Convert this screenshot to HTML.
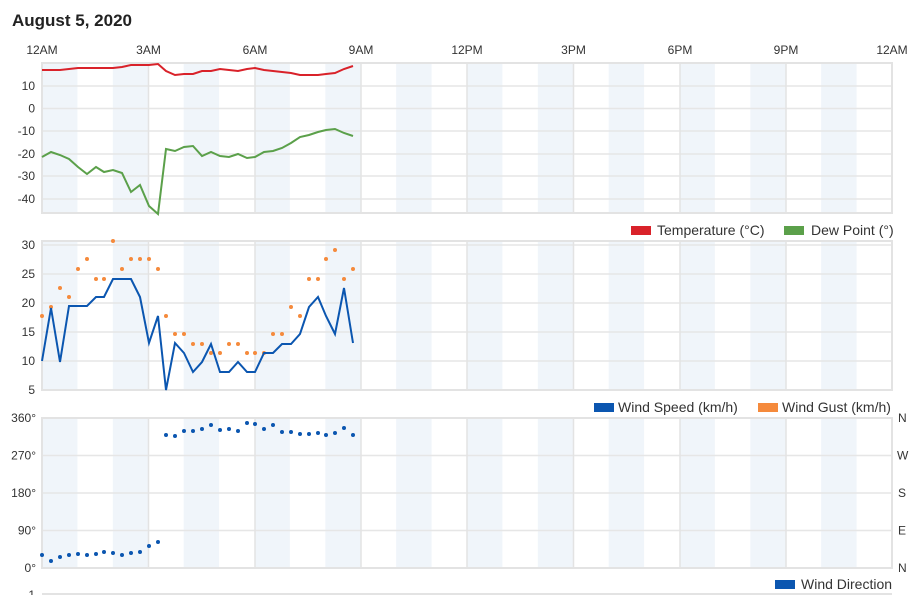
<!DOCTYPE html>
<html><head><meta charset="utf-8"><style>
body{margin:0;background:#fff;width:915px;height:595px;overflow:hidden;font-family:"Liberation Sans",Arial,sans-serif}
svg text{font-family:"Liberation Sans",Arial,sans-serif;fill:#333}
</style></head><body>
<svg width="915" height="595" viewBox="0 0 915 595" xmlns="http://www.w3.org/2000/svg">
<defs>
<pattern id="bd" patternUnits="userSpaceOnUse" x="42" y="0" width="70.833" height="600">
<rect x="0" y="0" width="35.42" height="600" fill="#f0f5fa"/>
</pattern>
</defs>
<text x="12" y="26" font-size="17" font-weight="bold" style="fill:#222">August 5, 2020</text>
<g font-size="12" text-anchor="middle">
<text x="42" y="54">12AM</text><text x="148.5" y="54">3AM</text><text x="255" y="54">6AM</text><text x="361" y="54">9AM</text>
<text x="467" y="54">12PM</text><text x="573.5" y="54">3PM</text><text x="680" y="54">6PM</text><text x="786" y="54">9PM</text><text x="892" y="54">12AM</text>
</g>
<rect x="42" y="63" width="850" height="150" fill="url(#bd)"/>
<rect x="42" y="241" width="850" height="149" fill="url(#bd)"/>
<rect x="42" y="418" width="850" height="150" fill="url(#bd)"/>
<g stroke="#e6e6e6" stroke-width="1.5">
<line x1="42" y1="86" x2="892" y2="86"/><line x1="42" y1="108.5" x2="892" y2="108.5"/><line x1="42" y1="131" x2="892" y2="131"/><line x1="42" y1="154" x2="892" y2="154"/><line x1="42" y1="176" x2="892" y2="176"/><line x1="42" y1="199" x2="892" y2="199"/>
<line x1="42" y1="245" x2="892" y2="245"/><line x1="42" y1="274" x2="892" y2="274"/><line x1="42" y1="303" x2="892" y2="303"/><line x1="42" y1="332" x2="892" y2="332"/><line x1="42" y1="361" x2="892" y2="361"/>
<line x1="42" y1="455.5" x2="892" y2="455.5"/><line x1="42" y1="493" x2="892" y2="493"/><line x1="42" y1="530.5" x2="892" y2="530.5"/>
</g>
<g stroke="#e3e3e3" stroke-width="1.5">
<path d="M148.5 63V213M255 63V213M361 63V213M467 63V213M573.5 63V213M680 63V213M786 63V213M892 63V213"/>
<path d="M148.5 241V390M255 241V390M361 241V390M467 241V390M573.5 241V390M680 241V390M786 241V390M892 241V390"/>
<path d="M148.5 418V568M255 418V568M361 418V568M467 418V568M573.5 418V568M680 418V568M786 418V568M892 418V568"/>
</g>
<g fill="none" stroke="#e3e3e3" stroke-width="2">
<rect x="42" y="63" width="850" height="150"/><rect x="42" y="241" width="850" height="149"/><rect x="42" y="418" width="850" height="150"/>
<line x1="42" y1="594" x2="892" y2="594"/>
</g>
<g font-size="12" text-anchor="end">
<text x="35" y="90">10</text><text x="35" y="112.5">0</text><text x="35" y="135">-10</text><text x="35" y="158">-20</text><text x="35" y="180">-30</text><text x="35" y="203">-40</text>
<text x="35" y="249">30</text><text x="35" y="278">25</text><text x="35" y="307">20</text><text x="35" y="336">15</text><text x="35" y="365">10</text><text x="35" y="394">5</text>
<text x="36" y="422">360°</text><text x="36" y="459.5">270°</text><text x="36" y="497">180°</text><text x="36" y="534.5">90°</text><text x="36" y="572">0°</text>
<text x="35" y="599">1</text>
</g>
<g font-size="12">
<text x="898" y="422">N</text><text x="897" y="459.5">W</text><text x="898" y="497">S</text><text x="898" y="534.5">E</text><text x="898" y="572">N</text>
</g>
<polyline fill="none" stroke="#d9222a" stroke-width="2" points="42,70 51,70 60,70 69,69 78,68 87,68 96,68 104,68 113,68 122,67 131,65 140,65 149,65 158,64 166,71 175,75 184,74 193,74 202,71 211,71 220,69 229,70 238,71 247,69 255,68 264,70 273,71 282,72 291,73 300,75 309,75 318,75 326,74 335,73 344,69 353,66"/>
<polyline fill="none" stroke="#5ba04a" stroke-width="2" points="42,157 51,152 60,155 69,159 78,167 87,174 96,167 104,172 113,170 122,173 131,192 140,185 149,206 158,214 166,149 175,151 184,147 193,146 202,156 211,152 220,156 229,157 238,154 247,158 255,157 264,152 273,151 282,148 291,143 300,137 309,135 318,132 326,130 335,129 344,133 353,136"/>
<rect x="631" y="226" width="20" height="9" fill="#d9222a"/><text x="657" y="235" font-size="14">Temperature (°C)</text>
<rect x="784" y="226" width="20" height="9" fill="#5ba04a"/><text x="811" y="235" font-size="14">Dew Point (°)</text>
<g fill="#f58a3c">
<circle cx="42" cy="316" r="2"/><circle cx="51" cy="307" r="2"/><circle cx="60" cy="288" r="2"/><circle cx="69" cy="297" r="2"/><circle cx="78" cy="269" r="2"/><circle cx="87" cy="259" r="2"/><circle cx="96" cy="279" r="2"/><circle cx="104" cy="279" r="2"/><circle cx="113" cy="241" r="2"/><circle cx="122" cy="269" r="2"/><circle cx="131" cy="259" r="2"/><circle cx="140" cy="259" r="2"/><circle cx="149" cy="259" r="2"/><circle cx="158" cy="269" r="2"/><circle cx="166" cy="316" r="2"/><circle cx="175" cy="334" r="2"/><circle cx="184" cy="334" r="2"/><circle cx="193" cy="344" r="2"/><circle cx="202" cy="344" r="2"/><circle cx="211" cy="353" r="2"/><circle cx="220" cy="353" r="2"/><circle cx="229" cy="344" r="2"/><circle cx="238" cy="344" r="2"/><circle cx="247" cy="353" r="2"/><circle cx="255" cy="353" r="2"/><circle cx="264" cy="353" r="2"/><circle cx="273" cy="334" r="2"/><circle cx="282" cy="334" r="2"/><circle cx="291" cy="307" r="2"/><circle cx="300" cy="316" r="2"/><circle cx="309" cy="279" r="2"/><circle cx="318" cy="279" r="2"/><circle cx="326" cy="259" r="2"/><circle cx="335" cy="250" r="2"/><circle cx="344" cy="279" r="2"/><circle cx="353" cy="269" r="2"/>
</g>
<polyline fill="none" stroke="#0b56b0" stroke-width="2" points="42,361 51,308 60,362 69,306 78,306 87,306 96,297 104,297 113,279 122,279 131,279 140,297 149,343 158,316 166,390 175,343 184,353 193,372 202,362 211,344 220,372 229,372 238,362 247,372 255,372 264,353 273,353 282,344 291,344 300,334 309,307 318,297 326,316 335,334 344,288 353,343"/>
<rect x="594" y="403" width="20" height="9" fill="#0b56b0"/><text x="618" y="412" font-size="14">Wind Speed (km/h)</text>
<rect x="758" y="403" width="20" height="9" fill="#f58a3c"/><text x="782" y="412" font-size="14">Wind Gust (km/h)</text>
<g fill="#0b56b0">
<circle cx="42" cy="555" r="2"/><circle cx="51" cy="561" r="2"/><circle cx="60" cy="557" r="2"/><circle cx="69" cy="555" r="2"/><circle cx="78" cy="554" r="2"/><circle cx="87" cy="555" r="2"/><circle cx="96" cy="554" r="2"/><circle cx="104" cy="552" r="2"/><circle cx="113" cy="553" r="2"/><circle cx="122" cy="555" r="2"/><circle cx="131" cy="553" r="2"/><circle cx="140" cy="552" r="2"/><circle cx="149" cy="546" r="2"/><circle cx="158" cy="542" r="2"/><circle cx="166" cy="435" r="2"/><circle cx="175" cy="436" r="2"/><circle cx="184" cy="431" r="2"/><circle cx="193" cy="431" r="2"/><circle cx="202" cy="429" r="2"/><circle cx="211" cy="425" r="2"/><circle cx="220" cy="430" r="2"/><circle cx="229" cy="429" r="2"/><circle cx="238" cy="431" r="2"/><circle cx="247" cy="423" r="2"/><circle cx="255" cy="424" r="2"/><circle cx="264" cy="429" r="2"/><circle cx="273" cy="425" r="2"/><circle cx="282" cy="432" r="2"/><circle cx="291" cy="432" r="2"/><circle cx="300" cy="434" r="2"/><circle cx="309" cy="434" r="2"/><circle cx="318" cy="433" r="2"/><circle cx="326" cy="435" r="2"/><circle cx="335" cy="433" r="2"/><circle cx="344" cy="428" r="2"/><circle cx="353" cy="435" r="2"/>
</g>
<rect x="775" y="580" width="20" height="9" fill="#0b56b0"/><text x="801" y="589" font-size="14">Wind Direction</text>
</svg>
</body></html>
